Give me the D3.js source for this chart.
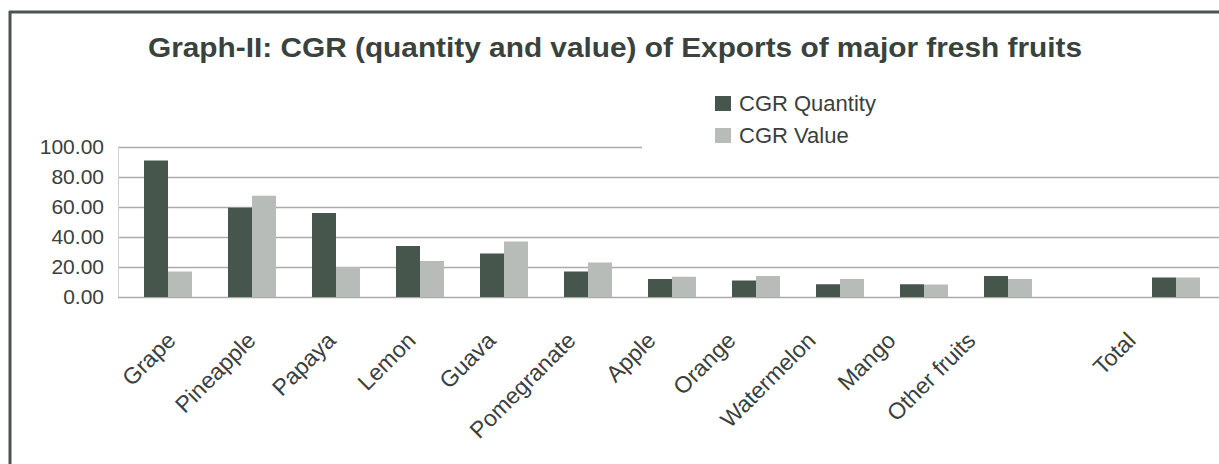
<!DOCTYPE html>
<html>
<head>
<meta charset="utf-8">
<script src="https://cdn.jsdelivr.net/npm/d3@7/dist/d3.min.js"></script>
<style>
  html, body { margin: 0; padding: 0; background: #fff; }
  svg { display: block; }
</style>
</head>
<body>
<svg id="chart" width="1219" height="464"></svg>
<script>
const categories = ["Grape", "Pineapple", "Papaya", "Lemon", "Guava", "Pomegranate", "Apple", "Orange", "Watermelon", "Mango", "Other fruits", "", "Total"];
const cgrQuantity = [91, 59.5, 56, 34, 29, 17, 12, 11, 8.5, 8.5, 14, null, 13];
const cgrValue    = [17, 67.5, 20, 24, 37, 23, 13.5, 14, 12, 8.3, 12, null, 13];
const yTicks = [0, 20, 40, 60, 80, 100];
const seriesNames = ["CGR Quantity", "CGR Value"];
const titleText = "Graph-II: CGR (quantity and value) of Exports of major fresh fruits";

const colors = { "CGR Quantity": "#46564c", "CGR Value": "#b8bcb8" };
const textColor = "#3a403c";

const svg = d3.select("#chart");
const W = 1219, H = 464;

// Frame
svg.append("line").attr("x1", 9).attr("x2", W).attr("y1", 12).attr("y2", 12)
  .attr("stroke", "#4b5450").attr("stroke-width", 3);
svg.append("line").attr("x1", 10).attr("x2", 10).attr("y1", 11).attr("y2", H)
  .attr("stroke", "#4b5450").attr("stroke-width", 3);

// Scales
const y = d3.scaleLinear().domain([0, 100]).range([297, 147]);
const x0 = d3.scaleBand().domain(categories).range([126, 1218]).paddingInner(0).paddingOuter(0);
const x1 = d3.scaleBand().domain(seriesNames).range([0, 48]);
const xLabel = d3.scaleBand().domain(categories).range([137, 1177]);

const plotLeft = 118, plotRight = W;

// Gridlines
svg.append("g").selectAll("line").data(yTicks).join("line")
  .attr("x1", plotLeft).attr("x2", plotRight)
  .attr("y1", d => Math.round(y(d)) + 0.5).attr("y2", d => Math.round(y(d)) + 0.5)
  .attr("stroke", "#a9aca9").attr("stroke-width", 1.3);
svg.append("line").attr("x1", plotLeft + 0.5).attr("x2", plotLeft + 0.5)
  .attr("y1", y(100)).attr("y2", y(0)).attr("stroke", "#d0d2d0").attr("stroke-width", 1);

// Legend background hides the top gridline on the right
svg.append("rect").attr("x", 642).attr("y", 84).attr("width", W - 642).attr("height", 76).attr("fill", "#fff");

// Y axis
const yAxis = svg.append("g").attr("transform", "translate(104,0)")
  .call(d3.axisLeft(y).tickValues(yTicks).tickFormat(d3.format(".2f")).tickSize(0).tickPadding(0));
yAxis.select(".domain").remove();
yAxis.selectAll("text").attr("font-family", "'Liberation Sans', Arial, sans-serif")
  .attr("font-size", 21).attr("fill", textColor);

// Bars
const rows = categories.map((c, i) => ({ cat: c, vals: [
  { key: "CGR Quantity", v: cgrQuantity[i] },
  { key: "CGR Value", v: cgrValue[i] }
]}));
const groups = svg.append("g").selectAll("g").data(rows).join("g")
  .attr("transform", d => `translate(${x0(d.cat) + x0.bandwidth() / 2 - 24},0)`);
groups.selectAll("rect").data(d => d.vals.filter(v => v.v != null)).join("rect")
  .attr("x", d => x1(d.key))
  .attr("width", x1.bandwidth())
  .attr("y", d => y(d.v))
  .attr("height", d => y(0) - y(d.v))
  .attr("fill", d => colors[d.key]);

// X labels
const xAxis = svg.append("g").attr("transform", "translate(0,342)")
  .call(d3.axisBottom(xLabel).tickSize(0).tickPadding(0));
xAxis.select(".domain").remove();
xAxis.selectAll("text")
  .attr("y", 0).attr("dy", 0)
  .attr("transform", "rotate(-45)")
  .style("text-anchor", "end")
  .attr("font-family", "'Liberation Sans', Arial, sans-serif")
  .attr("font-size", 23).attr("fill", textColor);

// Legend
const legend = svg.append("g").attr("transform", "translate(715,96)");
const li = legend.selectAll("g").data(seriesNames).join("g")
  .attr("transform", (d, i) => `translate(0,${i * 32})`);
li.append("rect").attr("width", 16).attr("height", 15).attr("fill", d => colors[d]);
li.append("text").attr("x", 24).attr("y", 15)
  .attr("font-family", "'Liberation Sans', Arial, sans-serif")
  .attr("font-size", 22).attr("fill", textColor).text(d => d);

// Title
svg.append("text").attr("x", 148).attr("y", 57)
  .attr("font-family", "'Liberation Sans Narrow', 'Liberation Sans', Arial, sans-serif")
  .attr("font-weight", "bold").attr("font-size", 28)
  .attr("textLength", 934).attr("lengthAdjust", "spacingAndGlyphs")
  .attr("fill", "#39423d").text(titleText);
</script>
</body>
</html>
